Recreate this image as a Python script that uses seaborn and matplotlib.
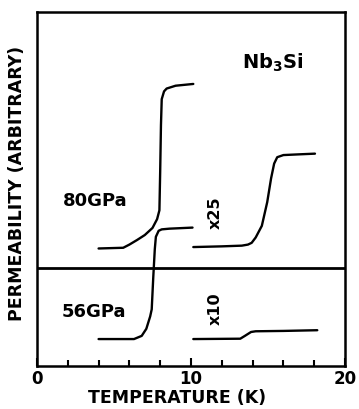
import numpy as np
import pandas as pd
import matplotlib
matplotlib.use("Agg")
import matplotlib.pyplot as plt
from matplotlib.ticker import MultipleLocator
import seaborn as sns

# Permeability curves (temperature in K, arbitrary units)
t_80 = [4.0, 5.6, 6.0, 6.5, 7.0, 7.5, 7.8, 7.95, 8.0, 8.05, 8.1, 8.25, 8.42, 9.0, 10.15]
p_80 = [33.2, 33.4, 34.3, 35.6, 37.0, 39.0, 41.5, 44.0, 55.0, 68.0, 75.4, 77.6, 78.4, 79.2, 79.7]

t_x25 = [10.15, 12.0, 13.3, 13.7, 13.94, 14.2, 14.6, 14.95, 15.2, 15.4, 15.6, 16.0, 17.0, 18.05]
p_x25 = [33.6, 33.8, 34.0, 34.3, 34.8, 36.3, 39.6, 46.3, 53.0, 57.2, 59.0, 59.6, 59.8, 60.0]

t_56 = [4.0, 6.3, 6.8, 7.1, 7.35, 7.45, 7.55, 7.65, 7.72, 7.9, 8.1, 8.6, 10.1]
p_56 = [7.6, 7.6, 8.5, 10.5, 14.0, 16.0, 25.0, 33.0, 36.5, 38.2, 38.6, 38.8, 39.1]

t_x10 = [10.15, 13.2, 13.5, 13.9, 14.2, 16.0, 18.2]
p_x10 = [7.6, 7.7, 8.5, 9.6, 9.8, 9.9, 10.1]

divider = 27.7
xticks = [0, 10, 20]

sns.set_style("white")
plt.rcParams['font.family'] = ['DejaVu Sans']
plt.rcParams['font.weight'] = 'bold'
plt.rcParams['text.color'] = 'black'
plt.rcParams['axes.labelcolor'] = 'black'
plt.rcParams['xtick.color'] = 'black'

fig = plt.figure(figsize=(3.59, 4.10), dpi=100)
ax = fig.add_axes([0.103, 0.105, 0.858, 0.863])

curves = [(t_80, p_80), (t_x25, p_x25), (t_56, p_56), (t_x10, p_x10)]
for t, p in curves:
    df = pd.DataFrame({'T': t, 'P': p})
    sns.lineplot(data=df, x='T', y='P', sort=False, estimator=None,
                 color='black', linewidth=1.7, ax=ax)

ax.axhline(divider, color='black', linewidth=2.0)

ax.set_xlim(0, 20)
ax.set_ylim(0, 100)
ax.set_yticks([])
ax.set_xticks(xticks)
ax.set_xticklabels([str(v) for v in xticks], fontweight='bold')
ax.xaxis.set_minor_locator(MultipleLocator(2))
ax.tick_params(axis='x', which='major', direction='in', length=6, width=1.5,
               labelsize=12, pad=2, bottom=True)
ax.tick_params(axis='x', which='minor', direction='in', length=4, width=1.5,
               bottom=True)
for s in ax.spines.values():
    s.set_linewidth(1.8)
    s.set_color('black')

ax.set_xlabel('TEMPERATURE (K)', fontsize=12.5, fontweight='bold')
ax.xaxis.set_label_coords(0.455, -0.062)
ax.set_ylabel('PERMEABILITY (ARBITRARY)', fontsize=12.5, fontweight='bold')
ax.yaxis.set_label_coords(-0.035, 0.52)

ax.text(15.3, 86, 'Nb$_\\mathbf{3}$Si', fontsize=14, fontweight='bold', ha='center', va='center')
ax.text(3.75, 47, '80GPa', fontsize=13, fontweight='bold', ha='center', va='center')
ax.text(3.7, 15.6, '56GPa', fontsize=13, fontweight='bold', ha='center', va='center')
ax.text(11.55, 43.5, 'x25', fontsize=11.5, fontweight='bold', ha='center', va='center', rotation=90)
ax.text(11.55, 16.6, 'x10', fontsize=11.5, fontweight='bold', ha='center', va='center', rotation=90)

plt.savefig('out.png', dpi=100)
